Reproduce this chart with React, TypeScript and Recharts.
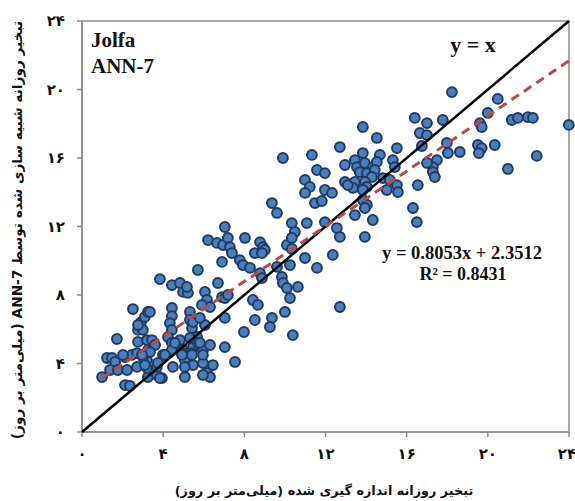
import {
  ScatterChart,
  Scatter,
  XAxis,
  YAxis,
  ReferenceArea,
  Customized
} from "recharts";

// measured (x) vs simulated ANN-7 (y), mm/day
const lowCluster: [number, number][] = [
  [0.99, 3.21], [1.23, 4.32], [1.48, 4.32], [1.63, 4.09], [1.38, 3.62], [1.77, 3.62],
  [1.72, 5.43], [2.12, 4.38], [2.22, 3.62], [2.12, 2.74], [2.36, 2.69], [2.46, 4.5],
  [2.51, 7.18], [2.71, 4.61], [2.71, 3.8], [2.76, 5.26], [2.76, 5.96], [2.91, 6.42],
  [3.1, 6.72], [3.25, 7.01], [3.0, 5.96], [3.2, 5.37], [3.25, 4.79], [3.2, 4.2],
  [3.0, 4.38], [3.25, 3.21], [3.2, 3.74], [3.45, 5.37], [3.6, 5.08], [3.69, 3.33],
  [3.69, 3.8], [3.94, 3.15], [3.84, 8.93], [3.99, 4.5], [4.43, 8.58], [4.83, 8.7],
  [4.98, 8.18], [5.22, 8.12], [4.43, 7.24], [4.43, 6.77], [4.33, 6.36], [4.43, 5.96],
  [4.24, 5.55], [4.43, 5.2], [4.68, 4.96], [4.98, 4.79], [5.17, 4.61], [4.48, 3.8],
  [5.07, 3.21], [5.07, 4.2], [5.32, 7.01], [5.32, 6.54], [5.42, 6.07], [5.17, 8.47],
  [5.71, 9.46], [5.67, 5.55], [5.32, 5.49], [5.47, 4.96], [4.93, 4.61], [4.83, 5.37],
  [5.47, 6.42], [4.43, 4.79], [5.42, 4.61], [4.09, 4.5], [4.93, 4.5], [5.71, 5.2],
  [5.42, 4.5], [3.74, 4.03], [3.1, 3.91], [5.47, 3.91], [5.07, 3.8], [3.84, 3.15],
  [3.35, 4.67], [2.02, 4.5], [2.96, 4.5], [4.58, 5.2], [2.76, 6.25], [3.35, 7.01]
];

const midCluster: [number, number][] = [
  [5.96, 4.79], [5.81, 5.2], [6.06, 8.18], [6.16, 7.71], [6.31, 7.3], [5.91, 7.42],
  [5.96, 4.03], [6.16, 3.45], [6.31, 3.21], [6.45, 3.91], [5.96, 4.5], [6.31, 5.08],
  [6.06, 6.25], [6.7, 8.7], [6.9, 7.88], [7.04, 6.66], [7.04, 4.96], [7.54, 4.09],
  [7.98, 5.84], [7.04, 11.97], [6.21, 11.21], [6.65, 11.04], [6.95, 10.92], [7.19, 11.33],
  [7.29, 10.8], [7.39, 10.45], [8.03, 11.33], [8.77, 11.09], [8.92, 10.8], [9.01, 10.63],
  [8.52, 10.45], [6.9, 9.93], [7.78, 10.04], [7.93, 9.75], [8.28, 9.58], [8.77, 9.28],
  [8.87, 8.99], [7.04, 7.82], [8.42, 7.71], [8.67, 7.42], [8.52, 6.54], [9.36, 6.66],
  [9.26, 6.13], [10.0, 7.01], [10.39, 5.66], [9.85, 9.05], [9.9, 8.7], [10.1, 8.41],
  [9.61, 9.64], [10.25, 9.75], [10.25, 7.82], [10.64, 8.47], [10.1, 10.92], [10.34, 10.69],
  [10.34, 12.2], [10.49, 11.68], [9.36, 13.37], [9.61, 12.79], [9.9, 16.0], [5.96, 3.33],
  [5.81, 6.66], [7.19, 8.0], [10.34, 11.33], [8.87, 10.45]
];

const upperCluster: [number, number][] = [
  [10.99, 10.16], [11.58, 9.58], [12.71, 7.3], [10.99, 14.72], [11.23, 14.31], [10.99, 13.96],
  [11.58, 15.3], [11.97, 15.12], [11.97, 14.13], [12.32, 13.96], [11.48, 13.37], [11.82, 13.49],
  [11.08, 12.2], [11.97, 12.26], [12.56, 11.91], [12.71, 11.39], [12.36, 10.34], [11.33, 16.18],
  [12.71, 16.64], [13.84, 17.81], [14.53, 17.17], [15.52, 16.58], [13.84, 16.29], [14.68, 16.18],
  [12.96, 15.59], [13.45, 15.88], [13.55, 15.47], [13.94, 15.71], [14.33, 15.47], [14.53, 15.77],
  [15.32, 15.88], [15.42, 15.47], [13.69, 15.18], [14.04, 15.12], [14.43, 15.3], [14.29, 14.89],
  [12.96, 14.6], [13.45, 14.6], [13.35, 14.25], [13.94, 14.6], [14.04, 14.31], [14.83, 14.83],
  [15.17, 14.72], [15.52, 14.42], [15.57, 14.01], [13.84, 13.55], [14.04, 13.26], [13.45, 12.67],
  [14.33, 12.38], [13.94, 11.39], [13.1, 14.42], [15.02, 14.13], [13.94, 13.08], [13.84, 14.13]
];

const topCluster: [number, number][] = [
  [16.4, 18.34], [17.0, 18.04], [16.65, 17.46], [17.0, 17.34], [16.75, 16.7], [16.55, 14.42],
  [16.31, 13.08], [16.5, 12.26], [17.49, 15.88], [17.29, 15.47], [17.29, 15.18], [17.39, 14.89],
  [17.0, 15.71], [17.78, 18.22], [18.23, 19.85], [20.49, 19.45], [20.0, 18.63], [19.61, 18.04],
  [19.7, 17.81], [21.18, 18.22], [21.48, 18.34], [21.97, 18.39], [22.22, 18.34], [23.99, 17.93],
  [17.98, 16.88], [18.03, 16.29], [18.62, 16.35], [19.51, 16.76], [19.7, 16.58], [19.56, 16.29],
  [20.34, 16.76], [22.41, 16.12], [20.99, 15.36]
];

const tickValues = [0, 4, 8, 12, 16, 20, 24];
const tickLabels = ["۰", "۴", "۸", "۱۲", "۱۶", "۲۰", "۲۴"];

const slope = 0.8053;
const intercept = 2.3512;
const trendStartX = 0.99;

const points = [...lowCluster, ...midCluster, ...upperCluster, ...topCluster].map(([x, y]) => ({ x, y }));
const identityLine = [{ x: 0, y: 0 }, { x: 24, y: 24 }];
const trendLine = [trendStartX, 24].map((x) => ({ x, y: slope * x + intercept }));

const axisGray = "#8a8a8a";
const serif = "'Liberation Serif', 'Times New Roman', serif";
const persian = "'DejaVu Sans', sans-serif";

function Dot(props: any) {
  const { cx, cy } = props;
  return <circle cx={cx} cy={cy} r={4.9} fill="#4a7ebb" stroke="#1f3b63" strokeWidth={2} />;
}

const NoDot = () => <g />;

function Annotations() {
  return (
    <g>
      <text x={91} y={47} fontFamily={serif} fontWeight="bold" fontSize={21} fill="#111">Jolfa</text>
      <text x={91} y={73} fontFamily={serif} fontWeight="bold" fontSize={21} fill="#111">ANN-7</text>
      <text x={473} y={52} textAnchor="middle" fontFamily={serif} fontWeight="bold" fontSize={22} fill="#111">y = x</text>
      <text x={462} y={259} textAnchor="middle" fontFamily={serif} fontWeight="bold" fontSize={18.5} fill="#111">y = 0.8053x + 2.3512</text>
      <text x={463} y={280} textAnchor="middle" fontFamily={serif} fontWeight="bold" fontSize={18} fill="#111">R² = 0.8431</text>
      <text x={324} y={495} textAnchor="middle" fontFamily={persian} fontWeight="bold" fontSize={12.8} fill="#111" style={{ direction: "rtl" }}>
        تبخیر روزانه اندازه گیری شده (میلی‌متر بر روز)
      </text>
      <text x={18} y={230} transform="rotate(-90 18 230)" dominantBaseline="middle" textAnchor="middle" fontFamily={persian} fontWeight="bold" fontSize={13.7} fill="#111" style={{ direction: "rtl" }}>
        تبخیر روزانه شبیه سازی شده توسط ANN-7 (میلی‌متر بر روز)
      </text>
    </g>
  );
}

const fmt = (v: number) => tickLabels[tickValues.indexOf(v)];

export default function App() {
  return (
    <div style={{ position: "absolute", left: 0, top: 0, background: "#fff" }}>
      <ScatterChart width={575} height={501} margin={{ top: 21, right: 6, left: 22, bottom: 29 }}>
        <XAxis
          type="number"
          dataKey="x"
          domain={[0, 24]}
          ticks={tickValues}
          tickFormatter={fmt}
          height={40}
          stroke={axisGray}
          strokeWidth={1.5}
          tickSize={5}
          tickMargin={11}
          tick={{ fill: "#111", fontSize: 15, fontWeight: "bold", fontFamily: persian }}
        />
        <YAxis
          type="number"
          dataKey="y"
          domain={[0, 24]}
          ticks={tickValues}
          tickFormatter={fmt}
          width={60}
          stroke={axisGray}
          strokeWidth={1.5}
          tickSize={5}
          tickMargin={12}
          tick={{ fill: "#111", fontSize: 15, fontWeight: "bold", fontFamily: persian }}
        />
        <ReferenceArea x1={0} x2={24} y1={0} y2={24} fill="none" stroke={axisGray} strokeWidth={1.5} />
        <Scatter data={points} shape={Dot} isAnimationActive={false} />
        <Scatter
          data={identityLine}
          line={{ stroke: "#000", strokeWidth: 2.5 }}
          shape={NoDot}
          isAnimationActive={false}
        />
        <Scatter
          data={trendLine}
          line={{ stroke: "#b84a48", strokeWidth: 3, strokeDasharray: "9 6" }}
          shape={NoDot}
          isAnimationActive={false}
        />
        <Customized component={Annotations} />
      </ScatterChart>
    </div>
  );
}
